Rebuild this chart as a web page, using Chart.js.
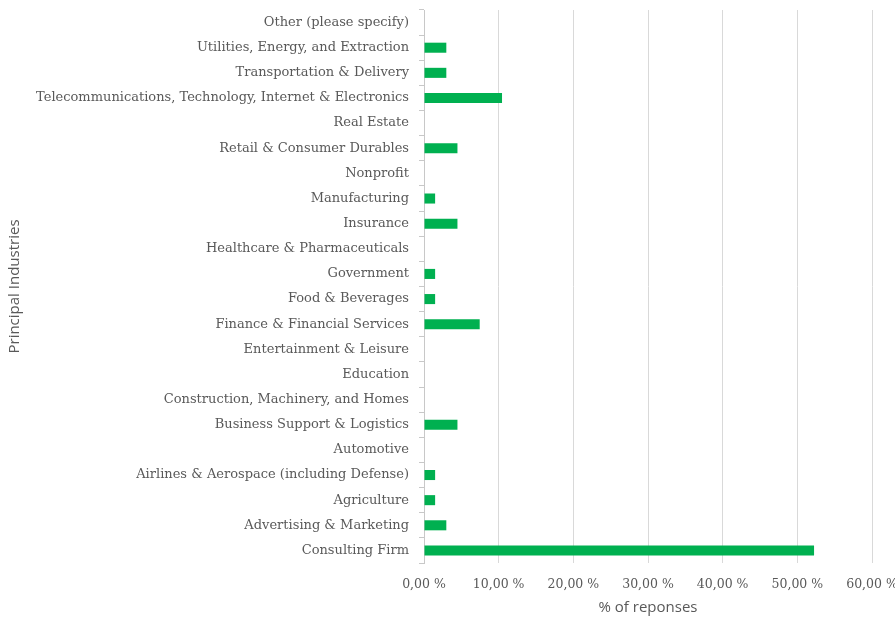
<!DOCTYPE html>
<html>
<head>
<meta charset="utf-8">
<script src="https://cdn.jsdelivr.net/npm/chart.js@4"></script>
<style>
	html, body { margin: 0; padding: 0; overflow: hidden; background: #fff; }
	#wrap { width: 920px; height: 618px; }
</style>
</head>
<body>
<div id="wrap"><canvas id="industryChart"></canvas></div>
<script>
// categories listed bottom to top, as in the sheet
const industries = [
	'Consulting Firm',
	'Advertising & Marketing',
	'Agriculture',
	'Airlines & Aerospace (including Defense)',
	'Automotive',
	'Business Support & Logistics',
	'Construction, Machinery, and Homes',
	'Education',
	'Entertainment & Leisure',
	'Finance & Financial Services',
	'Food & Beverages',
	'Government',
	'Healthcare & Pharmaceuticals',
	'Insurance',
	'Manufacturing',
	'Nonprofit',
	'Retail & Consumer Durables',
	'Real Estate',
	'Telecommunications, Technology, Internet & Electronics',
	'Transportation & Delivery',
	'Utilities, Energy, and Extraction',
	'Other (please specify)',
];
const responsePct = [
	52.24, 2.99, 1.49, 1.49, 0, 4.48, 0, 0, 0, 7.46, 1.49,
	1.49, 0, 4.48, 1.49, 0, 4.48, 0, 10.45, 2.99, 2.99, 0,
];
const xTicks = [0, 10, 20, 30, 40, 50, 60];

const textGrey = '#595959';
const serif = 'DejaVu Serif';

window.industryChart = new Chart(document.getElementById('industryChart'), {
	type: 'bar',
	data: {
		labels: industries,
		datasets: [
			{
				label: '% of reponses',
				data: responsePct,
				backgroundColor: '#00b050',
				borderWidth: 0,
				barPercentage: 0.5,
				categoryPercentage: 0.8,
			},
		],
	},
	options: {
		indexAxis: 'y',
		responsive: true,
		maintainAspectRatio: false,
		animation: false,
		layout: {
			padding: { top: 10, right: 48, bottom: 0, left: 0 },
		},
		plugins: {
			legend: { display: false },
			tooltip: { enabled: false },
		},
		scales: {
			x: {
				min: 0,
				max: 60,
				afterBuildTicks: (s) => {
					s.ticks = xTicks.map((v) => ({ value: v }));
				},
				afterFit: (s) => {
					s.height = 55;
				},
				grid: {
					color: '#d9d9d9',
					drawTicks: false,
				},
				border: { display: false },
				ticks: {
					color: textGrey,
					padding: 14,
					font: { family: serif, size: 12.5 },
					callback: (v) => v.toFixed(2).replace('.', ',') + ' %',
				},
				title: {
					display: true,
					text: '% of reponses',
					color: textGrey,
					font: { family: 'Open Sans', size: 15 },
					padding: { top: 0, bottom: 1 },
				},
			},
			y: {
				reverse: true,
				afterFit: (s) => {
					s.width = 424;
					s.paddingTop = 0;
					s.paddingBottom = 0;
				},
				grid: {
					display: true,
					drawOnChartArea: false,
					tickLength: 5,
					color: '#c8c8c8',
				},
				border: { display: true, color: '#c8c8c8' },
				ticks: {
					color: textGrey,
					padding: 10,
					autoSkip: false,
					font: { family: serif, size: 13 },
				},
				title: {
					display: true,
					text: 'Principal Industries',
					color: textGrey,
					font: { family: 'Open Sans', size: 15 },
					padding: { top: 6, bottom: 0 },
				},
			},
		},
	},
});
</script>
</body>
</html>
